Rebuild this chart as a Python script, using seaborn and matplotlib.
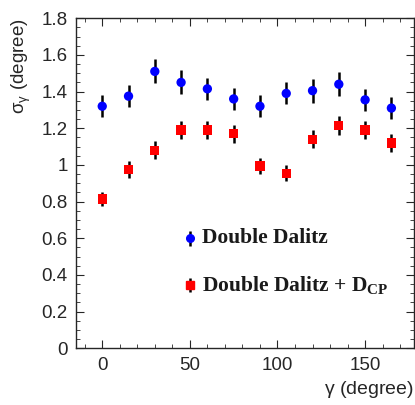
import numpy as np
import matplotlib
matplotlib.use('Agg')
import matplotlib.pyplot as plt
import pandas as pd
import seaborn as sns
from matplotlib.ticker import MultipleLocator

# values
gamma = [0, 15, 30, 45, 60, 75, 90, 105, 120, 135, 150, 165]
sigma_dd = [1.32, 1.375, 1.51, 1.45, 1.415, 1.36, 1.32, 1.39, 1.405, 1.44, 1.355, 1.31]
err_dd = [0.06, 0.06, 0.065, 0.065, 0.06, 0.06, 0.06, 0.06, 0.065, 0.065, 0.06, 0.06]
sigma_dcp = [0.815, 0.975, 1.08, 1.19, 1.19, 1.17, 0.995, 0.955, 1.14, 1.215, 1.19, 1.12]
err_dcp = [0.04, 0.045, 0.05, 0.05, 0.05, 0.05, 0.045, 0.045, 0.05, 0.05, 0.05, 0.05]
labels = ['Double Dalitz', r'Double Dalitz + D$_{\mathbf{CP}}$']

df = pd.concat([
    pd.DataFrame({'gamma': gamma, 'sigma': sigma_dd, 'err': err_dd, 'set': labels[0]}),
    pd.DataFrame({'gamma': gamma, 'sigma': sigma_dcp, 'err': err_dcp, 'set': labels[1]}),
])

sns.set_style("ticks")
plt.rcParams['font.family'] = ['Liberation Sans', 'DejaVu Sans']
plt.rcParams['mathtext.fontset'] = 'custom'
plt.rcParams['mathtext.rm'] = 'Liberation Sans'
plt.rcParams['mathtext.bf'] = 'Liberation Serif:bold'
plt.rcParams['mathtext.default'] = 'regular'

fig = plt.figure(figsize=(4.15, 4.05), dpi=100)
ax = fig.add_axes([0.183, 0.14, 0.815, 0.815])

# error bars first, then markers on top
for name in labels:
    d = df[df['set'] == name]
    ax.errorbar(d['gamma'], d['sigma'], yerr=d['err'], fmt='none', ecolor='black',
                elinewidth=1.8, capsize=0, zorder=2)

sns.scatterplot(data=df, x='gamma', y='sigma', hue='set', style='set',
                palette={labels[0]: '#0000ff', labels[1]: '#ff0000'},
                markers={labels[0]: 'o', labels[1]: 's'},
                s=45, linewidth=0, ax=ax, legend=False, zorder=3)

ax.set_xlim(-15, 178)
ax.set_ylim(0, 1.8)
ax.xaxis.set_major_locator(MultipleLocator(50))
ax.xaxis.set_minor_locator(MultipleLocator(10))
ax.yaxis.set_minor_locator(MultipleLocator(0.05))
ax.set_yticks(np.arange(0, 1.81, 0.2))
ax.set_yticklabels(['0', '0.2', '0.4', '0.6', '0.8', '1', '1.2', '1.4', '1.6', '1.8'])
ax.tick_params(which='both', direction='in', top=True, right=True, labelsize=13.5, pad=6)
ax.tick_params(which='major', length=6, width=0.8)
ax.tick_params(which='minor', length=3, width=0.6)
for s in ax.spines.values():
    s.set_linewidth(1.0)

ax.set_xlabel(r'$\gamma$ (degree)', fontsize=14, loc='right', labelpad=4)
ax.set_ylabel(r'$\sigma_{\gamma}$ (degree)', fontsize=13.5, loc='top', labelpad=6)

# legend drawn by hand like the original
ax.errorbar([50], [0.6], yerr=[0.04], fmt='o', color='#0000ff', ecolor='black',
            markersize=5.5, elinewidth=1.8)
ax.errorbar([50], [0.345], yerr=[0.04], fmt='s', color='#ff0000', ecolor='black',
            markersize=5.5, elinewidth=1.8)
ax.text(57, 0.6, labels[0], family='Liberation Serif', fontweight='bold',
        fontsize=15.5, va='center', color='#1a1a1a')
ax.text(57, 0.345, labels[1], family='Liberation Serif', fontweight='bold',
        fontsize=15.5, va='center', color='#1a1a1a')

fig.savefig('out.png', dpi=100)
